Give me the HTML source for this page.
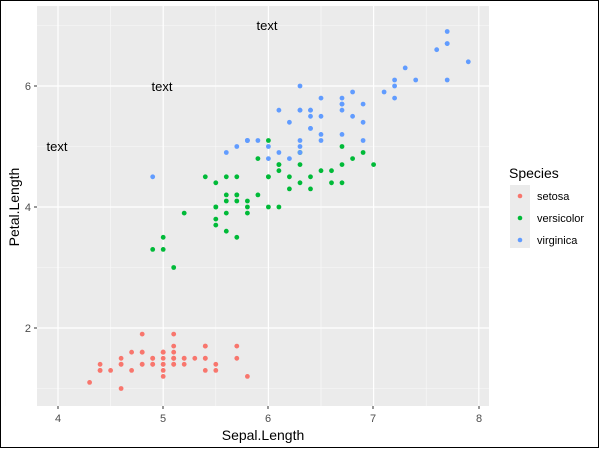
<!DOCTYPE html><html><head><style>body{margin:0;background:#fff}svg{display:block;font-family:"Liberation Sans",Arial,sans-serif}</style></head><body>
<svg id="s" width="600" height="449" xmlns="http://www.w3.org/2000/svg">
<rect x="0.5" y="0.5" width="598" height="447" fill="#fff" stroke="#000"/>
<rect x="37" y="6" width="452" height="400" fill="#ebebeb"/>
<g id="grid"></g>
<g id="pts"></g>
<g font-size="13" fill="#000">
<text x="57" y="151" text-anchor="middle">text</text>
<text x="162" y="91" text-anchor="middle">text</text>
<text x="267" y="30" text-anchor="middle">text</text>
</g>
<g font-size="11" fill="#4d4d4d">
<text x="58" y="422" text-anchor="middle">4</text><text x="163" y="422" text-anchor="middle">5</text><text x="268" y="422" text-anchor="middle">6</text><text x="373" y="422" text-anchor="middle">7</text><text x="479" y="422" text-anchor="middle">8</text>
<text x="31" y="90" text-anchor="end">6</text><text x="31" y="211" text-anchor="end">4</text><text x="31" y="332" text-anchor="end">2</text>
</g>
<g stroke="#333" stroke-width="1">
<line x1="58" y1="406" x2="58" y2="409"/><line x1="163" y1="406" x2="163" y2="409"/><line x1="268" y1="406" x2="268" y2="409"/><line x1="373" y1="406" x2="373" y2="409"/><line x1="479" y1="406" x2="479" y2="409"/>
<line x1="34" y1="86" x2="37" y2="86"/><line x1="34" y1="207" x2="37" y2="207"/><line x1="34" y1="328" x2="37" y2="328"/>
</g>
<text x="263" y="440" text-anchor="middle" font-size="14">Sepal.Length</text>
<text transform="translate(19,207) rotate(-90)" text-anchor="middle" font-size="14">Petal.Length</text>
<text x="509" y="178" font-size="14">Species</text>
<rect x="510" y="185" width="20" height="63" fill="#ebebeb"/>
<circle cx="520" cy="196" r="2.3" fill="#F8766D"/><circle cx="520" cy="218" r="2.3" fill="#00BA38"/><circle cx="520" cy="240" r="2.3" fill="#619CFF"/>
<g font-size="11" fill="#000"><text x="537" y="200">setosa</text><text x="537" y="222">versicolor</text><text x="537" y="244">virginica</text></g>
</svg>
<script>
var NS="http://www.w3.org/2000/svg";
function X(v){return 58+(v-4)*105.2}function Y(v){return 328-(v-2)*60.5}
var g=document.getElementById("grid"),h="";
[3.5,4.5,5.5,6.5,7.5].forEach(function(v){h+='<line x1="'+X(v)+'" y1="6" x2="'+X(v)+'" y2="406" stroke="#fafafa" stroke-width="0.6"/>'});
[1,3,5,7].forEach(function(v){h+='<line x1="37" y1="'+Y(v)+'" x2="489" y2="'+Y(v)+'" stroke="#fafafa" stroke-width="0.6"/>'});
[4,5,6,7,8].forEach(function(v){h+='<line x1="'+X(v)+'" y1="6" x2="'+X(v)+'" y2="406" stroke="#fff" stroke-width="1.2"/>'});
[2,4,6].forEach(function(v){h+='<line x1="37" y1="'+Y(v)+'" x2="489" y2="'+Y(v)+'" stroke="#fff" stroke-width="1.2"/>'});
g.innerHTML=h;
var D=[["#F8766D",[5.1,4.9,4.7,4.6,5.0,5.4,4.6,5.0,4.4,4.9,5.4,4.8,4.8,4.3,5.8,5.7,5.4,5.1,5.7,5.1,5.4,5.1,4.6,5.1,4.8,5.0,5.0,5.2,5.2,4.7,4.8,5.4,5.2,5.5,4.9,5.0,5.5,4.9,4.4,5.1,5.0,4.5,4.4,5.0,5.1,4.8,5.1,4.6,5.3,5.0],[1.4,1.4,1.3,1.5,1.4,1.7,1.4,1.5,1.4,1.5,1.5,1.6,1.4,1.1,1.2,1.5,1.3,1.4,1.7,1.5,1.7,1.5,1.0,1.7,1.9,1.6,1.6,1.5,1.4,1.6,1.6,1.5,1.5,1.4,1.5,1.2,1.3,1.4,1.3,1.5,1.3,1.3,1.3,1.6,1.9,1.4,1.6,1.4,1.5,1.4]],
["#00BA38",[7.0,6.4,6.9,5.5,6.5,5.7,6.3,4.9,6.6,5.2,5.0,5.9,6.0,6.1,5.6,6.7,5.6,5.8,6.2,5.6,5.9,6.1,6.3,6.1,6.4,6.6,6.8,6.7,6.0,5.7,5.5,5.5,5.8,6.0,5.4,6.0,6.7,6.3,5.6,5.5,5.5,6.1,5.8,5.0,5.6,5.7,5.7,6.2,5.1,5.7],[4.7,4.5,4.9,4.0,4.6,4.5,4.7,3.3,4.6,3.9,3.5,4.2,4.0,4.7,3.6,4.4,4.5,4.1,4.5,3.9,4.8,4.0,4.9,4.7,4.3,4.4,4.8,5.0,4.5,3.5,3.8,3.7,3.9,5.1,4.5,4.5,4.7,4.4,4.1,4.0,4.4,4.6,4.0,3.3,4.2,4.2,4.2,4.3,3.0,4.1]],
["#619CFF",[6.3,5.8,7.1,6.3,6.5,7.6,4.9,7.3,6.7,7.2,6.5,6.4,6.8,5.7,5.8,6.4,6.5,7.7,7.7,6.0,6.9,5.6,7.7,6.3,6.7,7.2,6.2,6.1,6.4,7.2,7.4,7.9,6.4,6.3,6.1,7.7,6.3,6.4,6.0,6.9,6.7,6.9,5.8,6.8,6.7,6.7,6.3,6.5,6.2,5.9],[6.0,5.1,5.9,5.6,5.8,6.6,4.5,6.3,5.8,6.1,5.1,5.3,5.5,5.0,5.1,5.3,5.5,6.7,6.9,5.0,5.7,4.9,6.7,4.9,5.7,6.0,4.8,4.9,5.6,5.8,6.1,6.4,5.6,5.1,5.6,6.1,5.6,5.5,4.8,5.4,5.6,5.1,5.1,5.9,5.7,5.2,5.0,5.2,5.4,5.1]]];
var p="";D.forEach(function(d){for(var i=0;i<d[1].length;i++)p+='<circle cx="'+X(d[1][i]).toFixed(1)+'" cy="'+Y(d[2][i]).toFixed(1)+'" r="2.4" fill="'+d[0]+'"/>'});
document.getElementById("pts").innerHTML=p;
</script>
</body></html>
